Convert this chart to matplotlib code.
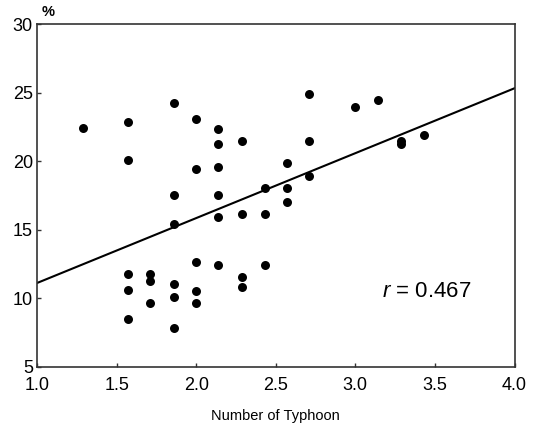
import matplotlib
matplotlib.use("Agg")
import matplotlib.pyplot as plt
import numpy as np

plt.rcParams['font.family'] = ['Liberation Sans', 'DejaVu Sans']
plt.rcParams['mathtext.fontset'] = 'custom'
plt.rcParams['mathtext.rm'] = 'Liberation Sans'
plt.rcParams['mathtext.it'] = 'Liberation Sans:italic'

# Data
typhoon = [1.29, 1.57, 1.57, 1.86, 2.00, 2.14, 2.14, 2.29, 2.00, 2.14,
           1.86, 2.14, 2.43, 1.86, 2.14, 2.29, 2.43,
           2.71, 3.00, 3.14, 2.71, 3.29, 3.29, 3.43, 2.57, 2.71, 2.57, 2.57,
           1.57, 1.57, 1.57, 1.71, 1.71, 1.71, 1.86, 1.86, 1.86, 2.00, 2.00,
           2.00, 2.14, 2.29, 2.29, 2.43]
percent = [22.4, 22.84, 20.07, 24.23, 23.08, 22.37, 21.23, 21.47, 19.41, 19.6,
           17.51, 17.51, 18.02, 15.42, 15.93, 16.17, 16.17,
           24.93, 23.96, 24.47, 21.45, 21.47, 21.23, 21.91, 19.85, 18.94, 18.02, 17.04,
           11.77, 10.58, 8.5, 11.79, 11.28, 9.67, 11.06, 10.11, 7.82, 12.66, 10.55,
           9.67, 12.45, 11.53, 10.8, 12.45]

fit_slope = 4.74
fit_intercept = 6.37
r_value = 0.467

x_ticks = [1.0, 1.5, 2.0, 2.5, 3.0, 3.5, 4.0]
y_ticks = [5, 10, 15, 20, 25, 30]

fig = plt.figure(figsize=(5.35, 4.23), dpi=100)
ax = fig.add_axes([37/535, 1 - 366.7/423, (514.5-37)/535, (366.7-24.3)/423])

ax.scatter(typhoon, percent, s=42, color='black', zorder=3, linewidths=0)
xl = np.array([1.0, 4.0])
ax.plot(xl, fit_intercept + fit_slope * xl, color='black', lw=1.5, zorder=2)

ax.set_xlim(1.0, 4.0)
ax.set_ylim(5, 30)
ax.set_xticks(x_ticks)
ax.set_xticklabels([f"{v:.1f}" for v in x_ticks])
ax.set_yticks(y_ticks)
ax.tick_params(direction='in', length=3, width=1.0, labelsize=13, color='#333333')
ax.tick_params(axis='x', pad=7.5)
ax.tick_params(axis='y', pad=3)
for s in ax.spines.values():
    s.set_linewidth(1.2)
    s.set_color('#333333')

ax.set_xlabel('Number of Typhoon', fontsize=10.5, labelpad=11)
ax.text(0.01, 1.015, '%', transform=ax.transAxes, fontsize=10.5,
        ha='left', va='bottom', fontweight='bold')

ax.text(3.167, 10.1, r'$r$ = ' + f"{r_value:.3f}", fontsize=16, va='baseline', ha='left')

fig.savefig('out.png', dpi=100)
